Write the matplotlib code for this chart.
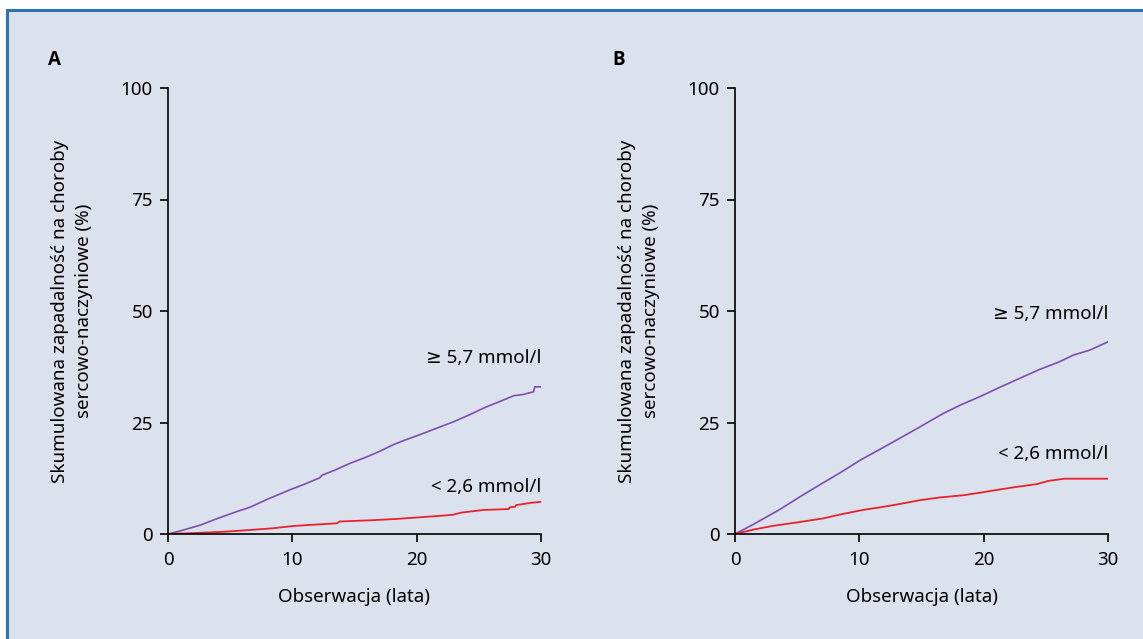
import matplotlib.pyplot as plt
from matplotlib.patches import Rectangle

plt.rcParams["font.family"] = ["Noto Sans", "DejaVu Sans"]

# panel A: cumulative incidence (%) vs follow-up (years)
a_high_x = [0, 1, 2.6, 4, 5.5, 6.6, 8, 9.8, 11, 12.2, 12.4, 13.4, 14.6, 16, 17, 18.1, 19, 20, 21.5, 23, 24.3, 25.6, 26.6, 27.8, 28.6, 29.4, 29.5, 30]
a_high_y = [0, 0.7, 2.0, 3.5, 5.0, 6.0, 7.8, 9.9, 11.2, 12.6, 13.2, 14.3, 15.8, 17.3, 18.5, 20.0, 21.0, 22.0, 23.6, 25.2, 26.8, 28.5, 29.6, 31.0, 31.3, 31.9, 33.0, 33.0]
a_low_x = [0, 2, 4.5, 6.6, 8.5, 10.1, 11.8, 13.6, 13.8, 16.5, 18.5, 20, 21.5, 22.9, 23.6, 25.4, 26.5, 27.4, 27.5, 27.9, 28.0, 28.3, 29.2, 30]
a_low_y = [0, 0.2, 0.5, 0.9, 1.3, 1.8, 2.1, 2.4, 2.8, 3.1, 3.4, 3.7, 4.0, 4.3, 4.8, 5.4, 5.5, 5.6, 6.0, 6.1, 6.5, 6.6, 7.0, 7.2]

# panel B
b_high_x = [0, 1.5, 3.6, 5.2, 6.8, 8.5, 10.1, 11.4, 12.7, 14.8, 16.8, 18.2, 19.7, 21.3, 22.9, 24.5, 26, 27.2, 28.5, 29.3, 30]
b_high_y = [0, 2.2, 5.5, 8.3, 11.0, 13.8, 16.6, 18.6, 20.6, 23.9, 27.1, 29.0, 30.8, 32.9, 34.9, 36.9, 38.5, 40.1, 41.2, 42.2, 43.1]
b_low_x = [0, 1.5, 3, 5, 7.1, 8.5, 10.3, 11.5, 13, 14.9, 16.5, 18.4, 19.8, 21.1, 22.5, 24.3, 25.2, 26.5, 30]
b_low_y = [0, 1.0, 1.8, 2.6, 3.5, 4.4, 5.4, 5.9, 6.6, 7.6, 8.2, 8.7, 9.3, 9.9, 10.5, 11.2, 11.9, 12.4, 12.4]

high_label = "≥ 5,7 mmol/l"
low_label = "< 2,6 mmol/l"
panels = [
    ("A", a_high_x, a_high_y, a_low_x, a_low_y, 39.5, 10.5),
    ("B", b_high_x, b_high_y, b_low_x, b_low_y, 49.3, 17.9),
]

purple = "#7d4fae"
red = "#e8232b"
bg = "#dce1ee"
fs = 13.5

fig = plt.figure(figsize=(11.43, 6.39), dpi=100)
fig.patch.set_facecolor("white")
fig.patches.append(Rectangle((7 / 1143, -0.05), 1.1, 1 - 10 / 639 + 0.05,
                             transform=fig.transFigure, facecolor=bg,
                             edgecolor="#2f73b4", linewidth=2.2, zorder=-5))

lefts = [168 / 1143, 735 / 1143]
letter_x = [48 / 1143, 612 / 1143]
for i, (letter, hx, hy, lx, ly, hy_lab, ly_lab) in enumerate(panels):
    ax = fig.add_axes([lefts[i], 1 - 534 / 639, 373 / 1143, 446 / 639])
    ax.set_zorder(2)
    ax.set_facecolor("none")
    ax.plot(hx, hy, color=purple, lw=1.2)
    ax.plot(lx, ly, color=red, lw=1.3)
    ax.set_xlim(0, 30)
    ax.set_ylim(0, 100)
    ax.set_xticks([0, 10, 20, 30])
    ax.set_yticks([0, 25, 50, 75, 100])
    for s in ["top", "right"]:
        ax.spines[s].set_visible(False)
    for s in ["left", "bottom"]:
        ax.spines[s].set_linewidth(1.2)
    ax.tick_params(length=6, width=1.2, labelsize=fs)
    ax.tick_params(axis="x", pad=6)
    ax.tick_params(axis="y", pad=5)
    ax.set_xlabel("Obserwacja (lata)", fontsize=fs)
    ax.xaxis.set_label_coords(0.5, -0.12)
    ax.set_ylabel("Skumulowana zapadalność na choroby\nsercowo-naczyniowe (%)",
                  fontsize=fs, linespacing=1.45)
    ax.yaxis.set_label_coords(-0.2, 0.5)
    ax.text(30, hy_lab, high_label, ha="right", va="center", fontsize=fs)
    ax.text(30, ly_lab, low_label, ha="right", va="center", fontsize=fs)
    fig.text(letter_x[i], 1 - 60 / 639, letter, fontsize=fs,
             fontweight="bold", va="center", family=["Open Sans", "DejaVu Sans"],
             zorder=3)

fig.savefig("out.png", dpi=100, facecolor=fig.get_facecolor())
